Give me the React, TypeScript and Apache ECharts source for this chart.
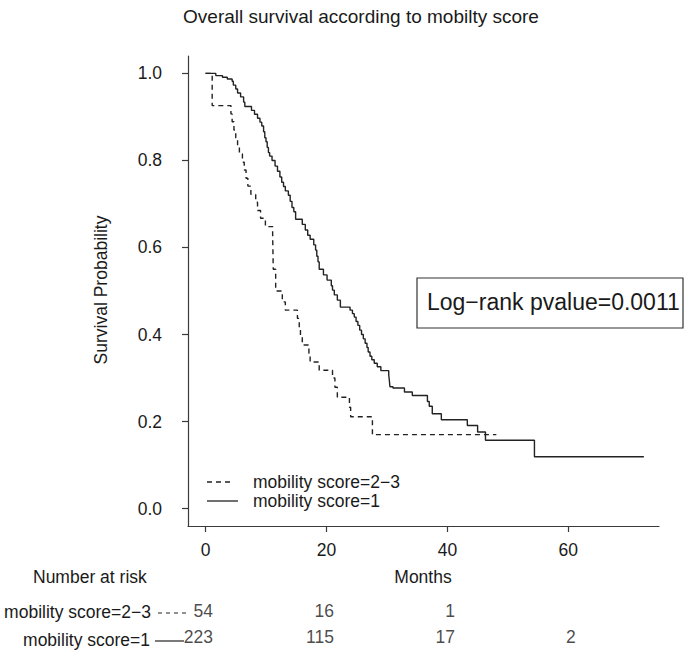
import React, { useEffect, useRef } from "react";
import * as echarts from "echarts";

const chartTitle = "Overall survival according to mobilty score";
const xTickValues = [0, 20, 40, 60];
const yTickValues = [0, 0.2, 0.4, 0.6, 0.8, 1.0];
const groupNames = ["mobility score=2−3", "mobility score=1"];

// Kaplan–Meier steps: [months, survival after the drop]
const dashedSteps: [number, number][] = [
  [0, 1.0], [1.1, 0.926], [4.2, 0.907], [4.4, 0.889], [4.7, 0.87], [5.0, 0.852],
  [5.3, 0.833], [5.6, 0.815], [6.1, 0.796], [6.4, 0.778], [6.7, 0.759], [7.0, 0.741],
  [7.5, 0.722], [8.3, 0.704], [8.6, 0.685], [9.1, 0.667], [9.9, 0.648], [11.1, 0.63],
  [11.2, 0.55], [11.6, 0.5], [12.7, 0.475], [13.2, 0.456], [15.2, 0.437], [15.5, 0.416],
  [15.7, 0.395], [16.0, 0.376], [17.1, 0.357], [17.3, 0.337], [18.8, 0.318], [21.0, 0.3],
  [21.4, 0.279], [21.8, 0.256], [23.8, 0.233], [24.0, 0.211], [27.6, 0.17], [48.1, 0.17],
];

const solidSteps: [number, number][] = [
  [0, 1.0], [1.7, 0.995], [2.8, 0.991], [3.6, 0.987], [4.4, 0.982], [4.6, 0.973],
  [5.0, 0.964], [5.3, 0.955], [5.8, 0.946], [6.3, 0.934], [6.5, 0.924], [7.6, 0.915],
  [8.1, 0.906], [8.6, 0.897], [9.0, 0.888], [9.3, 0.879], [9.6, 0.866], [9.8, 0.852],
  [10.0, 0.843], [10.2, 0.83], [10.4, 0.818], [10.6, 0.81], [11.0, 0.8], [11.5, 0.787],
  [11.9, 0.775], [12.3, 0.762], [12.6, 0.75], [12.9, 0.74], [13.2, 0.73], [13.7, 0.72],
  [14.0, 0.706], [14.3, 0.692], [14.6, 0.682], [14.9, 0.665], [16.0, 0.653], [16.5, 0.64],
  [16.9, 0.628], [17.3, 0.619], [17.9, 0.606], [18.2, 0.594], [18.4, 0.58], [18.6, 0.567],
  [18.8, 0.55], [19.5, 0.537], [20.1, 0.525], [20.8, 0.512], [21.0, 0.502], [21.3, 0.491],
  [21.8, 0.479], [22.3, 0.463], [23.9, 0.456], [24.3, 0.448], [24.6, 0.44], [24.9, 0.43],
  [25.2, 0.421], [25.5, 0.41], [25.8, 0.4], [26.1, 0.39], [26.4, 0.38], [26.7, 0.37],
  [26.9, 0.36], [27.2, 0.35], [27.5, 0.342], [27.9, 0.334], [28.4, 0.326], [29.0, 0.317],
  [30.3, 0.307], [30.4, 0.295], [30.5, 0.28], [31.0, 0.277], [32.9, 0.268], [34.2, 0.26],
  [36.7, 0.246], [37.0, 0.235], [37.5, 0.218], [39.0, 0.204], [43.3, 0.191], [45.0, 0.176],
  [46.3, 0.157], [54.4, 0.119], [72.5, 0.119],
];

// Number at risk
const riskTimes = [0, 20, 40, 60];
const riskDashed = [54, 16, 1, null];
const riskSolid = [223, 115, 17, 2];

const FONT = "'Liberation Sans', Arial, Helvetica, sans-serif";
const INK = "#1a1a1a";
const AXIS = "#3a3a3a";
const FS = 17.5;

export default function App() {
  const ref = useRef<HTMLDivElement>(null);
  useEffect(() => {
    if (!ref.current) return;
    const chart = echarts.init(ref.current, undefined, { renderer: "svg" });
    const riskData: any[] = [];
    riskTimes.forEach((t, i) => {
      if (riskDashed[i] != null) riskData.push([t, groupNames[0], riskDashed[i]]);
      if (riskSolid[i] != null) riskData.push([t, groupNames[1], riskSolid[i]]);
    });
    const txt = (text: string, x: number, y: number, align: string, size = FS, extra: any = {}) => ({
      type: "text",
      x,
      y,
      ...extra,
      style: { text, fontSize: size, fontFamily: FONT, fill: INK, align, verticalAlign: "middle" },
    });
    const option: any = {
      animation: false,
      backgroundColor: "#ffffff",
      textStyle: { fontFamily: FONT },
      grid: [
        { left: 188, right: 26, top: 56, bottom: 124, containLabel: false },
        { left: 188, right: 26, top: 598, height: 56, containLabel: false },
      ],
      xAxis: [
        {
          type: "value",
          gridIndex: 0,
          min: -2.9,
          max: 75,
          axisLine: { show: true, onZero: false, lineStyle: { color: AXIS, width: 1.2 } },
          axisTick: { show: true, customValues: xTickValues, length: 6, lineStyle: { color: AXIS, width: 1.2 } },
          axisLabel: { show: true, customValues: xTickValues, margin: 15, fontSize: FS, color: INK, fontFamily: FONT },
          splitLine: { show: false },
        },
        { type: "value", gridIndex: 1, min: -2.9, max: 75, show: false },
      ],
      yAxis: [
        {
          type: "value",
          gridIndex: 0,
          min: -0.04,
          max: 1.04,
          axisLine: { show: true, onZero: false, lineStyle: { color: AXIS, width: 1.2 } },
          axisTick: { show: true, customValues: yTickValues, length: 6, lineStyle: { color: AXIS, width: 1.2 } },
          axisLabel: {
            show: true,
            customValues: yTickValues,
            margin: 26,
            fontSize: FS,
            color: INK,
            fontFamily: FONT,
            formatter: (v: number) => v.toFixed(1),
          },
          splitLine: { show: false },
        },
        { type: "category", gridIndex: 1, data: groupNames, inverse: true, show: false },
      ],
      series: [
        {
          name: groupNames[0],
          type: "line",
          xAxisIndex: 0,
          yAxisIndex: 0,
          step: "end",
          showSymbol: false,
          symbol: "none",
          data: dashedSteps,
          lineStyle: { color: "#222", width: 1.4, type: [5, 4] },
        },
        {
          name: groupNames[1],
          type: "line",
          xAxisIndex: 0,
          yAxisIndex: 0,
          step: "end",
          showSymbol: false,
          symbol: "none",
          data: solidSteps,
          lineStyle: { color: "#222", width: 1.4 },
        },
        {
          name: "risk",
          type: "scatter",
          xAxisIndex: 1,
          yAxisIndex: 1,
          symbolSize: 1,
          itemStyle: { color: "rgba(0,0,0,0)" },
          data: riskData,
          label: {
            show: true,
            position: "left",
            distance: 0,
            offset: [8, 0],
            formatter: (p: any) => String(p.value[2]),
            fontSize: FS,
            color: INK,
            fontFamily: FONT,
          },
        },
      ],
      graphic: [
        txt(chartTitle, 361, 16, "center", 19),
        txt("Survival Probability", 101, 290, "center", FS, { rotation: Math.PI / 2 }),
        txt("Months", 423, 577, "center"),
        txt("Number at risk", 33, 577, "left"),
        // legend
        {
          type: "line",
          shape: { x1: 207, y1: 482, x2: 234, y2: 482 },
          style: { stroke: "#222", lineWidth: 1.3, lineDash: [5, 4] },
        },
        txt(groupNames[0], 253, 482, "left"),
        {
          type: "line",
          shape: { x1: 207, y1: 501, x2: 238, y2: 501 },
          style: { stroke: "#222", lineWidth: 1.3 },
        },
        txt(groupNames[1], 253, 501, "left"),
        // p-value box
        {
          type: "rect",
          shape: { x: 417, y: 278, width: 266, height: 50 },
          style: { fill: "none", stroke: "#333", lineWidth: 1.2 },
        },
        txt("Log−rank pvalue=0.0011", 427, 302, "left", 23),
        // risk table row labels with line samples
        txt(groupNames[0], 151, 612, "right"),
        {
          type: "line",
          shape: { x1: 158, y1: 613, x2: 188, y2: 613 },
          style: { stroke: "#222", lineWidth: 1.2, lineDash: [4, 4] },
        },
        txt(groupNames[1], 150, 640, "right"),
        {
          type: "line",
          shape: { x1: 155, y1: 641, x2: 184, y2: 641 },
          style: { stroke: "#222", lineWidth: 1.2 },
        },
      ],
    };
    chart.setOption(option);
    return () => chart.dispose();
  }, []);
  return (
    <div
      ref={ref}
      style={{ position: "fixed", left: 0, top: 0, width: 685, height: 650, background: "#fff" }}
    />
  );
}
